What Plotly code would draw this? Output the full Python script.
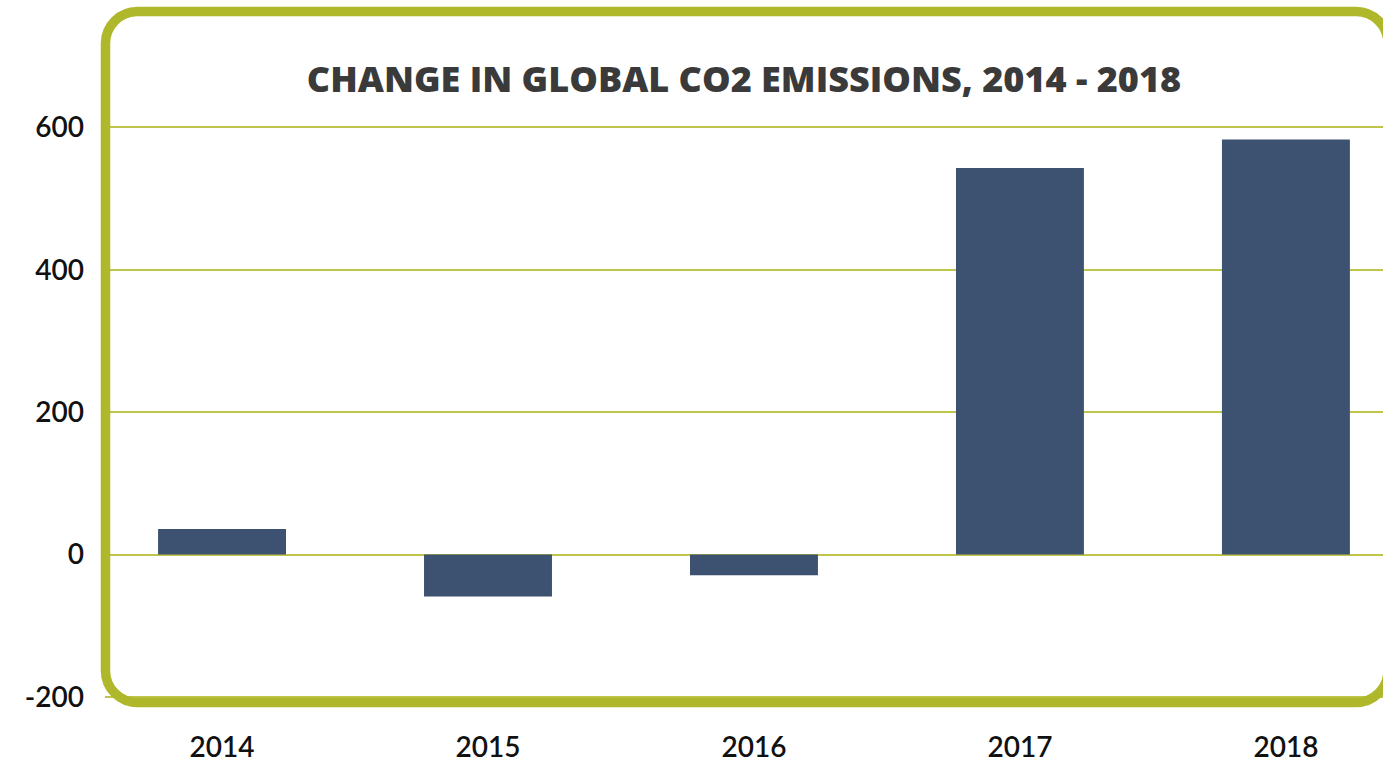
import plotly.graph_objects as go

years = ["2014", "2015", "2016", "2017", "2018"]
change = [36, -59, -29, 543, 583]
y_ticks = [-200, 0, 200, 400, 600]
y_tick_text = ["-200", "0", "200", "400", "600"]
title_text = "CHANGE IN GLOBAL CO2 EMISSIONS, 2014 - 2018"

W, H = 1383, 763
ML, MR, MT, MB = 105, 0, 12, 57
PW, PH = W - ML - MR, H - MT - MB

def px(x):
    return (x - ML) / PW

def py(y):
    return (H - MB - y) / PH

# rounded border (decoration)
L, R, T, B, r = 105.5, 1388, 11.5, 706.5, 32
k = 0.5523 * r
path = (
    f"M {px(L + r)},{py(T)} L {px(R - r)},{py(T)} "
    f"C {px(R - r + k)},{py(T)} {px(R)},{py(T + r - k)} {px(R)},{py(T + r)} "
    f"L {px(R)},{py(B - r)} "
    f"C {px(R)},{py(B - r + k)} {px(R - r + k)},{py(B)} {px(R - r)},{py(B)} "
    f"L {px(L + r)},{py(B)} "
    f"C {px(L + r - k)},{py(B)} {px(L)},{py(B - r + k)} {px(L)},{py(B - r)} "
    f"L {px(L)},{py(T + r)} "
    f"C {px(L)},{py(T + r - k)} {px(L + r - k)},{py(T)} {px(L + r)},{py(T)} Z"
)

fig = go.Figure()
fig.add_trace(go.Bar(
    x=list(range(len(years))), y=change,
    width=0.481,
    marker=dict(color="#3D5170", line=dict(width=0)),
    hoverinfo="skip",
))

fig.update_layout(
    width=W, height=H,
    margin=dict(l=ML, r=MR, t=MT, b=MB),
    paper_bgcolor="white", plot_bgcolor="white",
    showlegend=False,
    title=dict(
        text=title_text,
        x=0.5, xref="paper", xanchor="center",
        y=1 - 79 / H, yref="container", yanchor="middle",
        font=dict(family="Open Sans", size=36, weight=800, color="#3A3A3A"),
    ),
    xaxis=dict(
        range=[-0.44, 4.365],
        tickmode="array", tickvals=list(range(len(years))), ticktext=years,
        showgrid=False, zeroline=False, showline=False,
        ticks="", ticklabelstandoff=26,
        tickfont=dict(family="Lato", size=28, weight=600, color="#111111"),
    ),
    yaxis=dict(
        range=[-207.1, 762.1],
        tickmode="array", tickvals=y_ticks, ticktext=y_tick_text,
        showgrid=True, gridcolor="#BDC54B", gridwidth=1.7,
        zeroline=True, zerolinecolor="#BDC54B", zerolinewidth=1.7,
        showline=False, ticks="", ticklabelstandoff=20,
        tickfont=dict(family="Lato", size=28, weight=600, color="#111111"),
    ),
    shapes=[dict(
        type="path", path=path, xref="paper", yref="paper",
        line=dict(color="#AEB82A", width=9.5), fillcolor="rgba(0,0,0,0)",
        layer="above",
    )],
)

fig.write_html("out.html")
